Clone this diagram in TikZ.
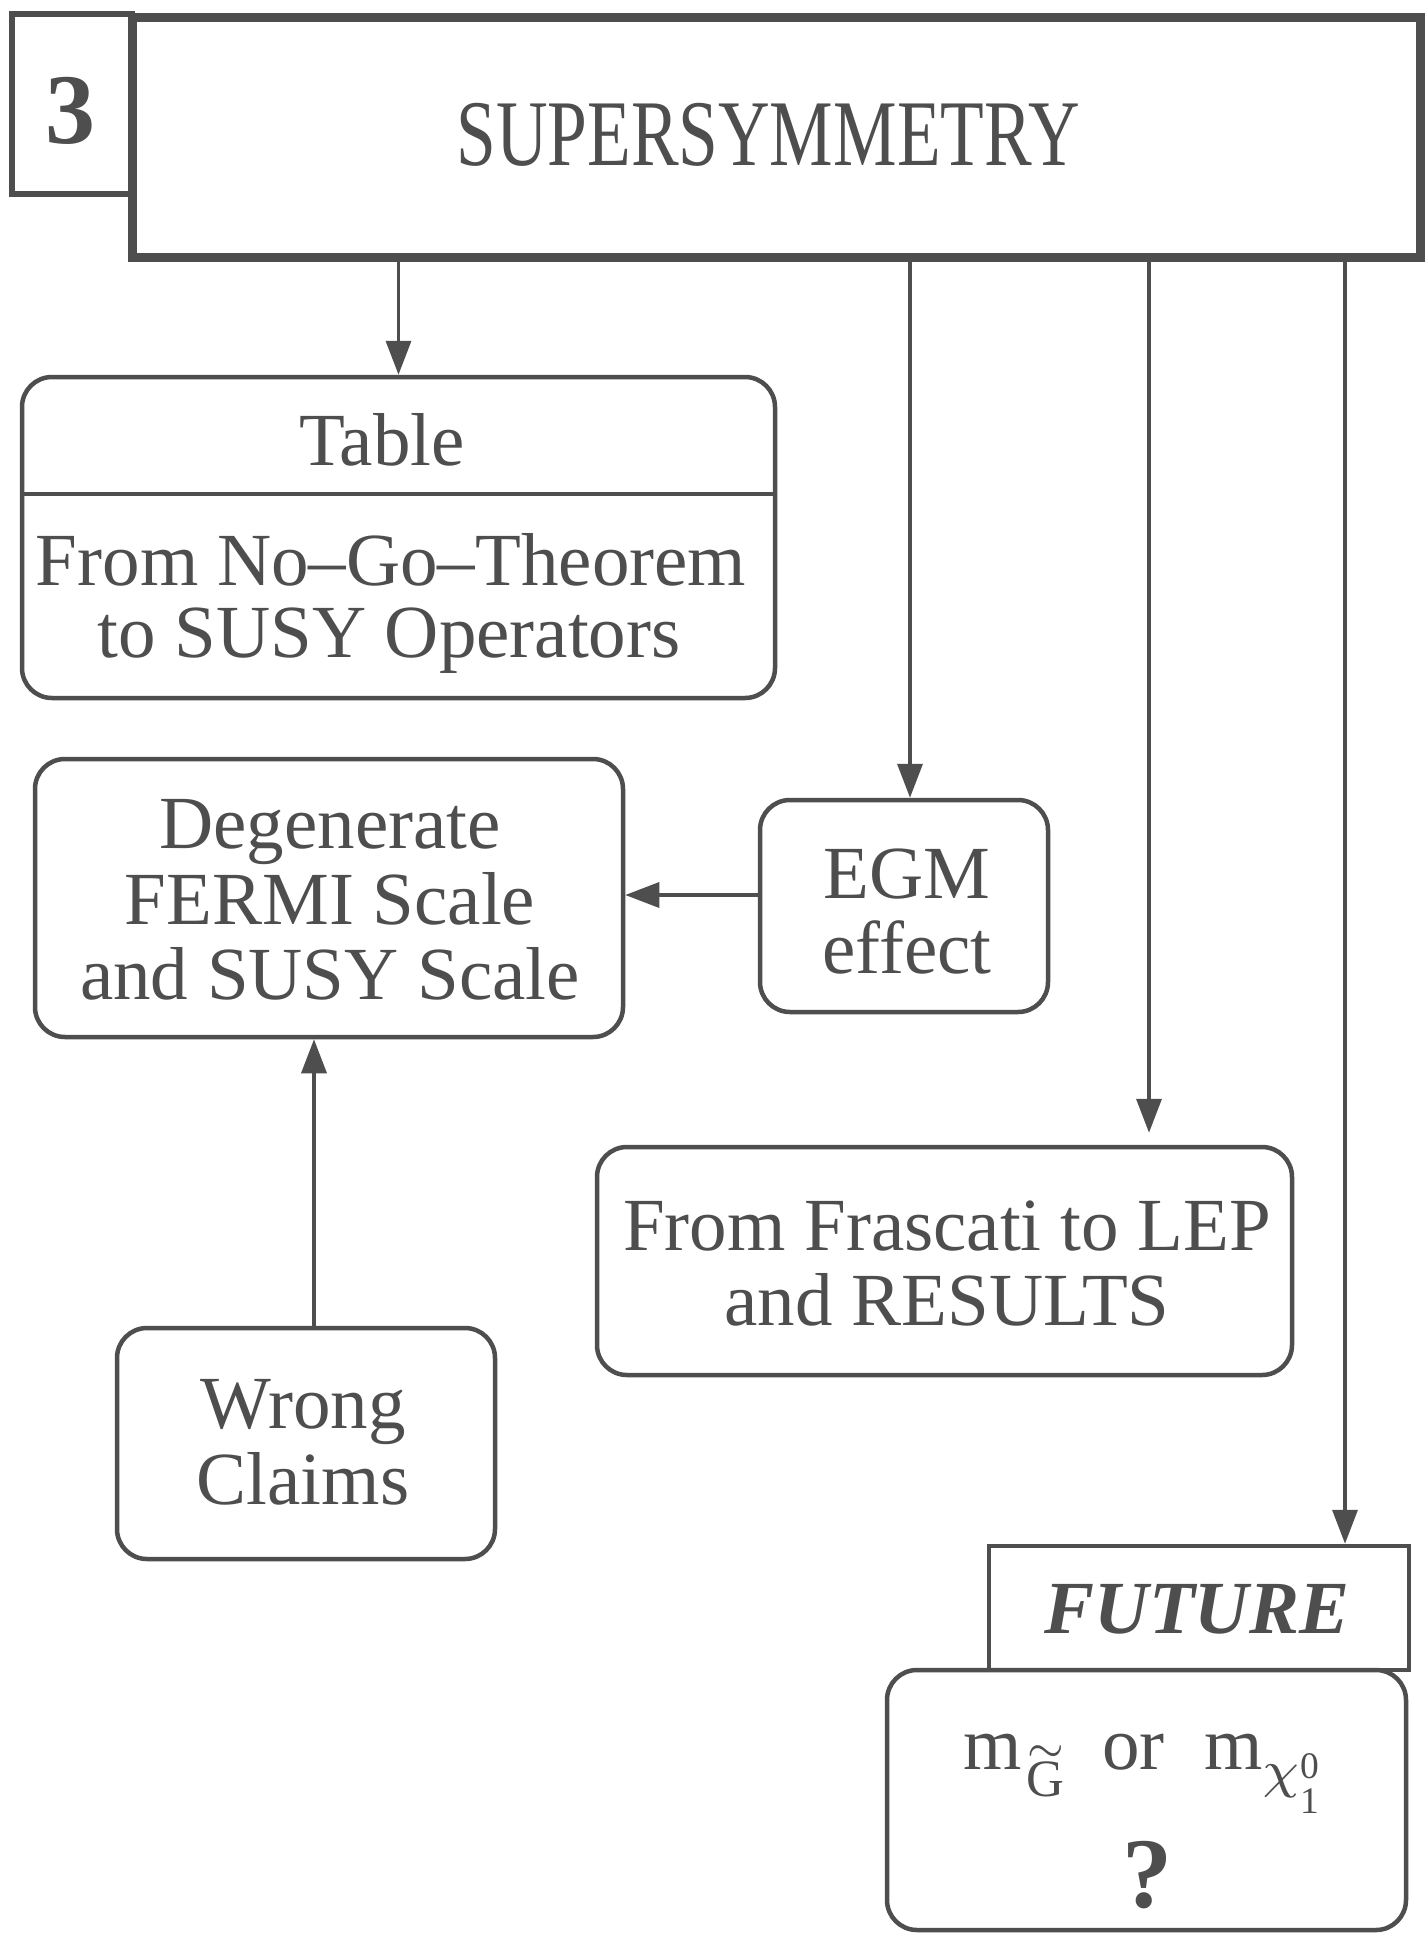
\documentclass[tikz,border=0pt]{standalone}
\usepackage{fontspec}
\setmainfont{Liberation Serif}
\usetikzlibrary{arrows.meta}
\definecolor{ink}{RGB}{78,78,78}
\begin{document}
\begin{tikzpicture}[x=1pt,y=-1pt,
  box/.style={draw=ink, line width=4.5pt, rounded corners=30pt, inner sep=0pt},
  sbox/.style={draw=ink, inner sep=0pt},
  txt/.style={text=ink, inner sep=0pt, anchor=base, font=\fontsize{75}{75}\selectfont},
  arr/.style={draw=ink, line width=3.5pt, -{Triangle[length=34pt,width=25pt]}}]
\useasboundingbox (0,0) rectangle (1427,1941);
\fill[white] (0,0) rectangle (1427,1941);

% header
\node[sbox, line width=6pt, minimum width=120pt, minimum height=180pt] (num) at (72,104) {};
\node[sbox, line width=9pt, minimum width=1288pt, minimum height=240pt] (susy) at (776,137) {};
\node[txt, font=\fontsize{100}{100}\selectfont\bfseries] (numt) at (70,143) {3};
\node[txt, font=\fontsize{94}{94}\selectfont] (susyt) at (768,165) {\scalebox{0.76}[1]{SUPERSYMMETRY}};

% Table box
\node[box, minimum width=753pt, minimum height=321pt] (table) at (398.5,537.5) {};
\coordinate (tdiv) at (0,494);
\draw[ink, line width=4pt] (table.west |- tdiv) -- (table.east |- tdiv);
\node[txt] (tablet) at (382,465) {Table};
\node[txt] (tab1) at (391,585) {From No–Go–Theorem};
\node[txt] (tab2) at (389,657) {to SUSY Operators};

% Degenerate
\node[box, minimum width=588pt, minimum height=278pt] (deg) at (329,898) {};
\node[txt] (deg1) at (330,848) {Degenerate};
\node[txt] (deg2) at (330,924) {FERMI Scale};
\node[txt] (deg3) at (330,999) {and SUSY Scale};

% EGM
\node[box, minimum width=288pt, minimum height=212pt] (egm) at (904,906) {};
\node[txt] (egm1) at (907,898) {EGM};
\node[txt] (egm2) at (907,973) {effect};

% Frascati
\node[box, minimum width=695pt, minimum height=228pt] (frasc) at (944.5,1261) {};
\node[txt] (fr1) at (947,1250) {From Frascati to LEP};
\node[txt] (fr2) at (947,1325) {and RESULTS};

% Wrong claims
\node[box, minimum width=378pt, minimum height=231pt] (wrong) at (306,1443.5) {};
\node[txt] (wr1) at (303,1428) {Wrong};
\node[txt] (wr2) at (303,1504) {Claims};

% Future
\node[sbox, line width=4.5pt, minimum width=420pt, minimum height=124pt] (future) at (1199,1608) {};
\node[txt, font=\fontsize{75}{75}\selectfont\bfseries\itshape] (futt) at (1197,1633) {FUTURE};
\node[box, minimum width=519pt, minimum height=260pt] (mass) at (1146.5,1800) {};
\node[txt] (mt) at (1141,1769) {\scalebox{7.5}{\fontsize{10}{12}\selectfont m\kern0.7pt\raisebox{-3.7pt}{\fontsize{7}{7}\selectfont\ooalign{G\cr\hidewidth\raisebox{4.8pt}{$\scriptstyle\sim$}\hidewidth\cr}}\hspace{5pt}or\hspace{5.3pt}m\raisebox{-2.4pt}{$\scriptstyle\chi$}\rlap{\raisebox{-1.2pt}{\fontsize{5}{5}\selectfont 0}}\raisebox{-5.9pt}{\fontsize{5}{5}\selectfont 1}}};
\node[txt, font=\fontsize{100}{100}\selectfont\bfseries] (qm) at (1147,1907) {?};

% connectors
\draw[arr] (susy.south -| table.north) -- (table.north);
\coordinate (xb) at (910,0);
\draw[arr] (susy.south -| xb) -- (egm.north -| xb);
\coordinate (yc) at (0,895);
\draw[arr] (egm.west |- yc) -- (deg.east |- yc);
\coordinate (xd) at (1149,0);
\draw[arr, shorten >=12pt] (susy.south -| xd) -- (frasc.north -| xd);
\coordinate (xe) at (1345,0);
\draw[arr] (susy.south -| xe) -- (future.north -| xe);
\coordinate (xf) at (314,0);
\draw[arr] (wrong.north -| xf) -- (deg.south -| xf);
\end{tikzpicture}
\end{document}
